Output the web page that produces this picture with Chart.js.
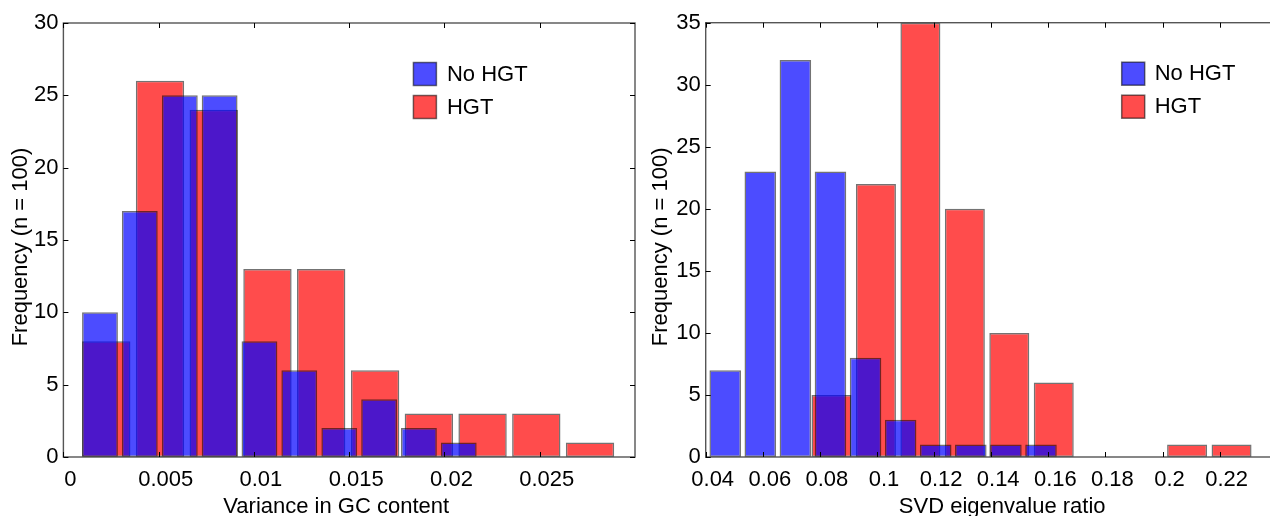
<!DOCTYPE html>
<html>
<head>
<meta charset="utf-8">
<script src="https://cdn.jsdelivr.net/npm/chart.js@4.4.1/dist/chart.umd.min.js"></script>
<style>
  html, body { margin: 0; padding: 0; background: #fff; overflow: hidden; }
  #wrap { position: relative; width: 1270px; height: 516px; overflow: hidden; background: #fff; }
  #wrap canvas { position: absolute; top: 0; }
  #gc { left: 0; }
  #svd { left: 640px; }
</style>
</head>
<body>
<div id="wrap">
  <canvas id="gc" width="640" height="516"></canvas>
  <canvas id="svd" width="645" height="516"></canvas>
</div>
<script>
// ---- Variance in GC content (bin centres and counts per group) ----
const gcNoHgtCenters = [0.00192, 0.00401, 0.00611, 0.00820, 0.01029, 0.01238, 0.01448, 0.01657, 0.01866, 0.02075];
const gcNoHgtCounts  = [10, 17, 25, 25, 8, 6, 2, 4, 2, 1];
const gcHgtCenters   = [0.00225, 0.00507, 0.00789, 0.01071, 0.01353, 0.01636, 0.01918, 0.02200, 0.02482, 0.02764];
const gcHgtCounts    = [8, 26, 24, 13, 13, 6, 3, 3, 3, 1];
const gcXTicks       = [0, 0.005, 0.01, 0.015, 0.02, 0.025];
const gcYTicks       = [0, 5, 10, 15, 20, 25, 30];

// ---- SVD eigenvalue ratio (bin centres and counts per group) ----
const svdNoHgtCenters = [0.04683, 0.05912, 0.07141, 0.08370, 0.09599, 0.10828, 0.12057, 0.13286, 0.14515, 0.15744];
const svdNoHgtCounts  = [7, 23, 32, 23, 8, 3, 1, 1, 1, 1];
const svdHgtCenters   = [0.08406, 0.09963, 0.11520, 0.13077, 0.14634, 0.16191, 0.17748, 0.19305, 0.20862, 0.22419];
const svdHgtCounts    = [5, 22, 35, 20, 10, 6, 0, 0, 1, 1];
const svdXTicks       = [0.04, 0.06, 0.08, 0.1, 0.12, 0.14, 0.16, 0.18, 0.2, 0.22];
const svdYTicks       = [0, 5, 10, 15, 20, 25, 30, 35];

const seriesNames = ['No HGT', 'HGT'];
const yTitle = 'Frequency (n = 100)';

const FONT = "'Liberation Sans', Arial, Helvetica, sans-serif";
Chart.defaults.font.family = FONT;
Chart.defaults.color = '#000';

const BLUE = 'rgba(0, 0, 255, 0.7)';
const RED = 'rgba(255, 0, 0, 0.7)';
const EDGE = 'rgba(0, 0, 0, 0.55)';

const toPoints = (xs, ys) => xs.map((x, i) => ({ x, y: ys[i] }));
const fmt = v => String(+Number(v).toFixed(4));

// Box frame with inward tick marks on all four sides
const framePlugin = {
  id: 'frame',
  afterDatasetsDraw(chart, args, opts) {
    const { ctx, chartArea: a, scales } = chart;
    ctx.save();
    ctx.strokeStyle = opts.color;
    ctx.lineWidth = opts.width;
    ctx.strokeRect(a.left, a.top, a.right - a.left, a.bottom - a.top);
    const len = opts.tickLength;
    ctx.beginPath();
    scales.x.ticks.forEach(t => {
      const px = Math.round(scales.x.getPixelForValue(t.value)) + 0.5;
      ctx.moveTo(px, a.bottom); ctx.lineTo(px, a.bottom - len);
      ctx.moveTo(px, a.top); ctx.lineTo(px, a.top + len);
    });
    scales.y.ticks.forEach(t => {
      const py = Math.round(scales.y.getPixelForValue(t.value)) + 0.5;
      ctx.moveTo(a.left, py); ctx.lineTo(a.left + len, py);
      ctx.moveTo(a.right, py); ctx.lineTo(a.right - len, py);
    });
    ctx.lineWidth = 1;
    ctx.strokeStyle = '#000';
    ctx.stroke();
    ctx.restore();
  }
};

// Axis titles, placed relative to the plot area
const axisTitles = {
  id: 'axisTitles',
  afterDraw(chart, args, opts) {
    const { ctx, chartArea: a } = chart;
    ctx.save();
    ctx.font = `${opts.fontSize}px ${FONT}`;
    ctx.fillStyle = '#000';
    ctx.textAlign = 'center';
    ctx.textBaseline = 'alphabetic';
    ctx.fillText(opts.x, (a.left + a.right) / 2 + opts.xShift, opts.xBaseline);
    ctx.translate(opts.yCenterX, (a.top + a.bottom) / 2 + opts.yShift);
    ctx.rotate(-Math.PI / 2);
    ctx.textBaseline = 'middle';
    ctx.fillText(opts.y, 0, 0);
    ctx.restore();
  }
};

// Legend drawn inside the plot area, swatch + label per dataset
const insideLegend = {
  id: 'insideLegend',
  afterDraw(chart, args, opts) {
    const { ctx, chartArea: a } = chart;
    ctx.save();
    ctx.font = `${opts.fontSize}px ${FONT}`;
    ctx.textBaseline = 'middle';
    chart.data.datasets.forEach((ds, i) => {
      const x = a.left + opts.left;
      const y = a.top + opts.top + i * opts.rowHeight;
      ctx.fillStyle = ds.backgroundColor;
      ctx.fillRect(x, y, opts.box, opts.box);
      ctx.strokeStyle = 'rgba(0,0,0,0.55)';
      ctx.lineWidth = 1.5;
      ctx.strokeRect(x, y, opts.box, opts.box);
      ctx.fillStyle = '#000';
      ctx.fillText(ds.label, x + opts.box + opts.gap, y + opts.box / 2 + 0.5);
    });
    ctx.restore();
  }
};

function makeHistChart(canvasId, cfg) {
  const barStyle = {
    borderColor: EDGE,
    borderWidth: 1.5,
    borderSkipped: false,
    barPercentage: 0.9,
    categoryPercentage: 1.0,
    grouped: false
  };
  const xCommon = {
    type: 'linear',
    min: cfg.xMin,
    max: cfg.xMax,
    offset: false,
    afterBuildTicks: s => { s.ticks = cfg.xTicks.map(v => ({ value: v })); }
  };
  return new Chart(document.getElementById(canvasId), {
    type: 'bar',
    data: {
      datasets: [
        Object.assign({ label: seriesNames[0], data: toPoints(cfg.noCenters, cfg.noCounts),
          backgroundColor: BLUE, xAxisID: 'x' }, barStyle),
        Object.assign({ label: seriesNames[1], data: toPoints(cfg.hgtCenters, cfg.hgtCounts),
          backgroundColor: RED, xAxisID: 'x2' }, barStyle)
      ]
    },
    options: {
      responsive: false,
      animation: false,
      layout: { padding: { top: cfg.padTop, right: cfg.padRight, left: 0, bottom: 0 } },
      plugins: {
        legend: { display: false },
        tooltip: { enabled: false },
        frame: { color: '#555', width: 1.4, tickLength: 5 },
        axisTitles: { x: cfg.xTitle, y: yTitle, fontSize: 22, xShift: cfg.xTitleShift,
          xBaseline: 513, yCenterX: 20.5, yShift: 7 },
        insideLegend: cfg.legend
      },
      scales: {
        x: Object.assign({}, xCommon, {
          position: 'bottom',
          grid: { display: false, drawTicks: false },
          border: { display: false },
          ticks: { padding: 10, labelOffset: 7, autoSkip: false, maxRotation: 0,
            font: { size: 22 }, color: '#000', callback: v => fmt(v) },
          afterFit: s => { s.height = 59; }
        }),
        x2: Object.assign({}, xCommon, { position: 'bottom', display: false }),
        y: {
          type: 'linear',
          min: 0,
          max: cfg.yMax,
          afterBuildTicks: s => { s.ticks = cfg.yTicks.map(v => ({ value: v })); },
          grid: { display: false, drawTicks: false },
          border: { display: false },
          ticks: { padding: 5, font: { size: 22 }, color: '#000', callback: v => fmt(v) },
          afterFit: s => { s.width = cfg.yWidth; }
        }
      }
    },
    plugins: [framePlugin, axisTitles, insideLegend]
  });
}

makeHistChart('gc', {
  noCenters: gcNoHgtCenters, noCounts: gcNoHgtCounts,
  hgtCenters: gcHgtCenters, hgtCounts: gcHgtCounts,
  xMin: 0, xMax: 0.03, xTicks: gcXTicks,
  yMax: 30, yTicks: gcYTicks,
  xTitle: 'Variance in GC content', xTitleShift: -13,
  padTop: 23, padRight: 5, yWidth: 63.4,
  legend: { left: 350, top: 39.5, rowHeight: 33, box: 23, gap: 10.5, fontSize: 22 }
});

makeHistChart('svd', {
  noCenters: svdNoHgtCenters, noCounts: svdNoHgtCounts,
  hgtCenters: svdHgtCenters, hgtCounts: svdHgtCounts,
  xMin: 0.04, xMax: 0.24, xTicks: svdXTicks,
  yMax: 35, yTicks: svdYTicks,
  xTitle: 'SVD eigenvalue ratio', xTitleShift: 11,
  padTop: 22.7, padRight: 8.3, yWidth: 65.7,
  legend: { left: 416, top: 39.5, rowHeight: 33, box: 23, gap: 10, fontSize: 22 }
});
</script>
</body>
</html>
